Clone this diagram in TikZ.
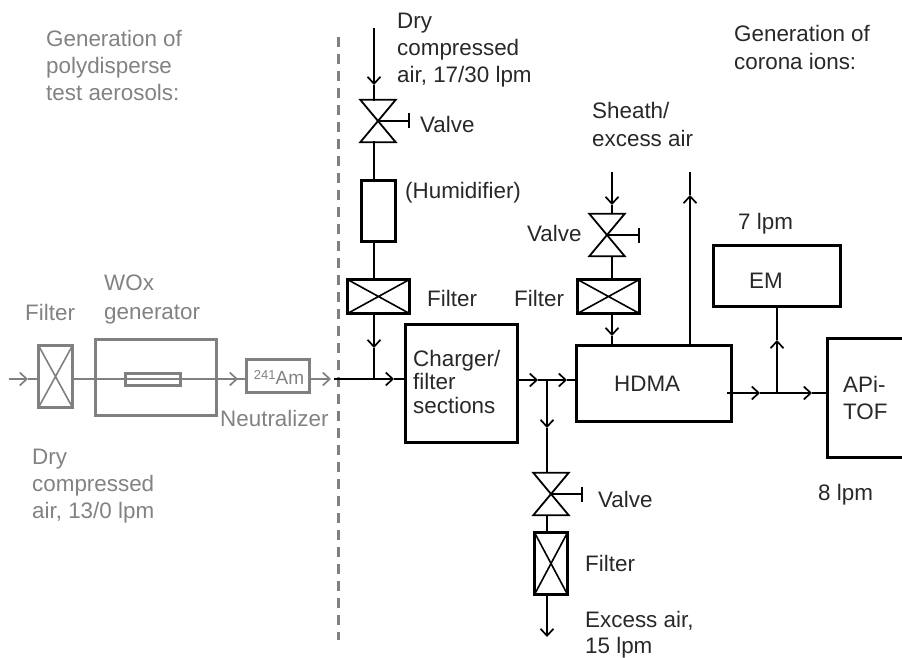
\documentclass[tikz,border=0pt]{standalone}
\usepackage{fontspec}
\setmainfont{Liberation Sans}
\usetikzlibrary{arrows.meta}
\definecolor{gr}{RGB}{128,128,128}
\definecolor{tx}{RGB}{40,40,40}
\definecolor{gtx}{RGB}{130,130,130}
\tikzset{
  x=1pt,y=-1pt,
  lab/.style={anchor=north west,inner sep=0pt,align=left,text=tx,font=\fontsize{22.4}{27}\selectfont},
  glab/.style={lab,text=gtx},
  box/.style={draw=black,line width=3pt,inner sep=0pt,anchor=north west,fill=none},
  gbox/.style={box,draw=gr},
  line/.style={draw=black,line width=1.7pt},
  gline/.style={draw=gr,line width=2pt},
  tip/.style={-{Straight Barb[length=7pt,width=13pt,line width=1.7pt]}},
  valvebox/.style={inner sep=0pt,minimum width=35pt,minimum height=42pt},
  crossx/.style={path picture={\draw[line width=1.6pt,#1] (path picture bounding box.north west) -- (path picture bounding box.south east) (path picture bounding box.south west) -- (path picture bounding box.north east);}},
}
\newcommand{\valveshape}[4]{% name, x, y, stem end
  \node[valvebox] (#1) at (#2,#3) {};
  \draw[line width=1.8pt,line join=miter] (#1.north west) -- (#1.north east) -- (#1.south west) -- (#1.south east) -- cycle;
  \draw[line width=1.6pt,-{Bar[width=15pt,line width=1.8pt]}] (#1.center) -- ++(#4,0);
}
\begin{document}
\begin{tikzpicture}
\useasboundingbox (0,0) rectangle (902,658);
% dashed divider
\coordinate (dtop) at (338,37);
\coordinate (dbot) at (338,640);
\draw[gr,line width=3pt,dash pattern=on 10pt off 7pt] (dtop) -- (dbot);
% grey part
\node[gbox,crossx=gr,minimum width=34pt,minimum height=62pt] (gf) at (37,344) {};
\node[gbox,minimum width=121pt,minimum height=76pt] (wox) at (94,338) {};
\node[gbox,minimum width=55pt,minimum height=12pt] (tube) at (124,372) {};
\node[gbox,minimum width=63pt,minimum height=33pt] (am) at (245,358) {};
\node[anchor=center,inner sep=0pt,text=gtx,font=\fontsize{19}{24}\selectfont] (amt) at (279,377) {\raisebox{5pt}{\fontsize{13}{13}\selectfont 241}Am};
\coordinate (gin) at (9,379);
\coordinate (gfo) at (74,379);
\coordinate (amo) at (311,379);
\coordinate (gend) at (331,379);
\draw[gline,tip] (gin) -- (28,379);
\draw[gline] (28,379) -- (gf.west |- gin);
\draw[gline] (gfo) -- (am.west |- gfo);
\draw[gline,tip] (gfo) -- (238,379);
\draw[gline,tip] (amo) -- (gend);
\node[glab] (t1) at (46,30) {Generation of\\polydisperse\\test aerosols:};
\node[glab] (t2) at (25,304) {Filter};
\node[glab] (t3) at (104,275) {WOx\\[2pt]generator};
\node[glab] (t4) at (220,410) {Neutralizer};
\node[glab] (t5) at (32,449) {Dry\\compressed\\air, 13/0 lpm};
% black boxes
\node[box,minimum width=34pt,minimum height=61pt] (hum) at (360,179) {};
\node[box,crossx=black,minimum width=62pt,minimum height=34pt] (f1) at (346,278) {};
\node[box,crossx=black,minimum width=62pt,minimum height=34pt] (f2) at (576,278) {};
\node[box,crossx=black,minimum width=33pt,minimum height=62pt] (f3) at (533,531) {};
\node[box,minimum width=112pt,minimum height=118pt] (chg) at (404,323) {};
\node[box,minimum width=155pt,minimum height=76pt] (hdma) at (575,344) {};
\node[box,minimum width=127pt,minimum height=61pt] (em) at (712,244) {};
\node[box,minimum width=85pt,minimum height=119pt] (api) at (826,337) {};
\valveshape{v1}{378}{121}{32}
\valveshape{v2}{607}{235}{33}
\valveshape{v3}{551}{494}{32}
% top inlet
\coordinate (a) at (374,28);
\coordinate (ajoin) at (374,379);
\draw[line,tip] (a) -- (374,85);
\draw[line] (374,85) -- (374,101);
\draw[line] (374,141) -- (374,179);
\draw[line] (374,243) -- (374,278);
\draw[line,tip] (374,315) -- (374,348);
\draw[line] (374,348) -- (ajoin);
\coordinate (dashx) at (334,379);
\draw[line,tip] (dashx) -- (394,379);
\draw[line] (394,379) -- (chg.west |- dashx);
% charger to HDMA
\coordinate (c1) at (518,380);
\coordinate (br) at (547,380);
\draw[line,tip] (c1) -- (538,380);
\draw[line] (538,380) -- (br);
\draw[line,tip] (br) -- (567,380);
\draw[line] (567,380) -- (hdma.west |- br);
\draw[line,tip] (br) -- (547,428);
\draw[line] (547,428) -- (547,473);
\draw[line] (547,516) -- (547,531);
\coordinate (exh) at (547,637);
\draw[line,tip] (547,596) -- (exh);
% sheath
\coordinate (s) at (612,172);
\draw[line,tip] (s) -- (612,205);
\draw[line] (612,205) -- (612,214);
\draw[line] (612,257) -- (612,278);
\draw[line,tip] (612,315) -- (612,336);
\draw[line] (612,336) -- (612,344);
% excess
\coordinate (upend) at (690,172);
\draw[line,tip] (hdma.north -| upend) -- (690,195);
\draw[line] (690,195) -- (upend);
% hdma out
\coordinate (h) at (727,393);
\coordinate (j) at (777,393);
\draw[line,tip] (h) -- (760,393);
\draw[line] (760,393) -- (j);
\draw[line,tip] (j) -- (812,393);
\draw[line] (812,393) -- (api.west |- j);
\draw[line,tip] (j) -- (777,340);
\draw[line] (777,340) -- (em.south -| j);
% labels
\node[lab] (l1) at (397,13) {Dry\\compressed\\air, 17/30 lpm};
\node[lab] (l2) at (734,25) {Generation of\\[1pt]corona ions:};
\node[lab] (l3) at (420,116) {Valve};
\node[lab] (l4) at (405,182) {(Humidifier)};
\node[lab] (l5) at (592,102) {Sheath/\\[1pt]excess air};
\node[lab] (l6) at (527,225) {Valve};
\node[lab] (l7) at (427,290) {Filter};
\node[lab] (l8) at (514,290) {Filter};
\node[lab] (l9) at (738,213) {7 lpm};
\node[lab] (l10) at (749,273) {EM};
\node[lab,font=\fontsize{22.4}{23.5}\selectfont] (l11) at (413,350) {Charger/\\filter\\sections};
\node[lab] (l12) at (614,376) {HDMA};
\node[lab] (l13) at (843,376) {APi-\\TOF};
\node[lab] (l14) at (818,484) {8 lpm};
\node[lab] (l15) at (598,491) {Valve};
\node[lab] (l16) at (585,555) {Filter};
\node[lab] (l17) at (585,611) {Excess air,\\[-1pt]15 lpm};
\end{tikzpicture}
\end{document}
